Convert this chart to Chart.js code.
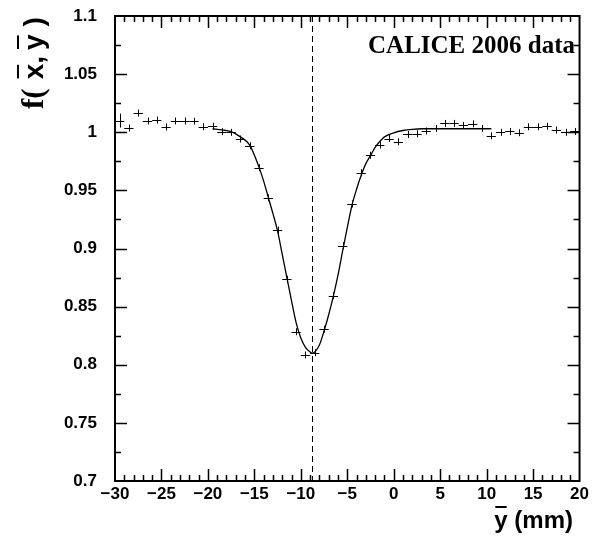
<!DOCTYPE html>
<html>
<head>
<meta charset="utf-8">
<script src="https://cdn.jsdelivr.net/npm/chart.js@4/dist/chart.umd.min.js"></script>
<style>
  html, body { margin: 0; padding: 0; background: #fff; }
  #wrap { width: 592px; height: 537px; }
</style>
</head>
<body>
<div id="wrap"><canvas id="ratioChart" width="592" height="537"></canvas></div>
<script>
// ================= DATA =================
const binCenters = [
  -29.5, -28.5, -27.5, -26.5, -25.5, -24.5, -23.5, -22.5, -21.5, -20.5,
  -19.5, -18.5, -17.5, -16.5, -15.5, -14.5, -13.5, -12.5, -11.5, -10.5,
  -9.5, -8.5, -7.5, -6.5, -5.5, -4.5, -3.5, -2.5, -1.5, -0.5,
  0.5, 1.5, 2.5, 3.5, 4.5, 5.5, 6.5, 7.5, 8.5, 9.5,
  10.5, 11.5, 12.5, 13.5, 14.5, 15.5, 16.5, 17.5, 18.5, 19.5
];
const ratio = [
  1.0100, 1.0036, 1.0165, 1.0097, 1.0105, 1.0045, 1.0097, 1.0097, 1.0095, 1.0047,
  1.0052, 1.0005, 0.9999, 0.9942, 0.9884, 0.9695, 0.9436, 0.9159, 0.8735, 0.8284,
  0.8084, 0.8104, 0.8305, 0.8594, 0.9024, 0.9383, 0.9652, 0.9802, 0.9890, 0.9946,
  0.9918, 0.9981, 0.9987, 1.0010, 1.0033, 1.0076, 1.0076, 1.0059, 1.0072, 1.0033,
  0.9970, 0.9999, 1.0007, 0.9996, 1.0047, 1.0047, 1.0052, 1.0019, 0.9999, 1.0007
];
const ratioErr = [
  0.006, 0.003, 0.003, 0.003, 0.003, 0.003, 0.003, 0.003, 0.003, 0.003,
  0.003, 0.003, 0.003, 0.003, 0.003, 0.003, 0.003, 0.003, 0.003, 0.003,
  0.003, 0.003, 0.003, 0.003, 0.003, 0.003, 0.003, 0.003, 0.003, 0.003,
  0.003, 0.003, 0.003, 0.003, 0.003, 0.003, 0.003, 0.003, 0.003, 0.003,
  0.003, 0.003, 0.003, 0.003, 0.003, 0.003, 0.003, 0.003, 0.003, 0.003
];
const binHalfWidth = 0.5;

// fit curve
const fitX = [
  -19.5, -18.5, -17.5, -16.5, -15.5, -14.5, -14, -13.5, -13, -12.5,
  -12, -11.5, -11, -10.5, -10, -9.5, -9, -8.8, -8.5, -8,
  -7.5, -7, -6.5, -6, -5.5, -5, -4.5, -4, -3.5, -3,
  -2.5, -2, -1.5, -1, 0, 1, 2, 3, 10.5
];
const fitY = [
  1.003, 1.002, 1.0005, 0.996, 0.989, 0.970, 0.958, 0.944, 0.930, 0.915,
  0.895, 0.875, 0.855, 0.836, 0.823, 0.815, 0.811, 0.810, 0.811, 0.817,
  0.829, 0.843, 0.859, 0.877, 0.898, 0.918, 0.937, 0.951, 0.963, 0.973,
  0.980, 0.987, 0.992, 0.996, 0.9995, 1.0015, 1.0025, 1.003, 1.003
];

const minimumPos = -8.8;
const xTickLabels = ["\u221230", "\u221225", "\u221220", "\u221215", "\u221210", "\u22125", "0", "5", "10", "15", "20"];
const yTickLabels = ["0.7", "0.75", "0.8", "0.85", "0.9", "0.95", "1", "1.05", "1.1"];
const labelText = "CALICE 2006 data";

// ================= DRAWING HELPERS =================
const decor = {
  id: "decor",
  afterDraw(chart) {
    const { ctx, chartArea: a, scales } = chart;
    const xs = scales.x, ys = scales.y;
    ctx.save();

    // error bars
    ctx.strokeStyle = "#000";
    ctx.lineWidth = 1;
    ctx.beginPath();
    binCenters.forEach((xc, i) => {
      const px = xs.getPixelForValue(xc);
      const py = ys.getPixelForValue(ratio[i]);
      const x0 = xs.getPixelForValue(xc - binHalfWidth);
      const x1 = xs.getPixelForValue(xc + binHalfWidth);
      const y0 = ys.getPixelForValue(ratio[i] - ratioErr[i]);
      const y1 = ys.getPixelForValue(ratio[i] + ratioErr[i]);
      ctx.moveTo(x0, Math.round(py) + 0.5);
      ctx.lineTo(x1, Math.round(py) + 0.5);
      ctx.moveTo(Math.round(px) + 0.5, y0);
      ctx.lineTo(Math.round(px) + 0.5, y1);
    });
    ctx.stroke();

    // dashed line at the minimum
    const dx = Math.round(xs.getPixelForValue(minimumPos)) + 0.5;
    ctx.setLineDash([6, 4]);
    ctx.lineWidth = 1;
    ctx.beginPath();
    ctx.moveTo(dx, a.top);
    ctx.lineTo(dx, a.bottom + 3);
    ctx.stroke();
    ctx.setLineDash([]);

    // frame + inward ticks
    ctx.lineWidth = 2;
    ctx.strokeRect(a.left, a.top, a.right - a.left, a.bottom - a.top);
    ctx.lineWidth = 1.5;
    ctx.beginPath();
    for (let v = -29; v < 20; v++) {
      const px = Math.round(xs.getPixelForValue(v)) + 0.5;
      const len = v % 5 === 0 ? 12 : 6;
      ctx.moveTo(px, a.bottom); ctx.lineTo(px, a.bottom - len);
      ctx.moveTo(px, a.top); ctx.lineTo(px, a.top + len);
    }
    for (let k = 1; k < 16; k++) {
      const v = 0.7 + k * 0.025;
      const py = Math.round(ys.getPixelForValue(v)) + 0.5;
      const len = k % 2 === 0 ? 12 : 6;
      ctx.moveTo(a.left, py); ctx.lineTo(a.left + len, py);
      ctx.moveTo(a.right, py); ctx.lineTo(a.right - len, py);
    }
    ctx.stroke();

    // data label
    ctx.fillStyle = "#000";
    ctx.font = "bold 25px 'Liberation Serif'";
    ctx.textAlign = "right";
    ctx.textBaseline = "alphabetic";
    ctx.fillText(labelText, 575, 53);

    // x axis title: y-bar (mm)
    ctx.font = "bold 24px 'Liberation Sans'";
    ctx.textAlign = "left";
    const xt = " (mm)";
    const wRest = ctx.measureText(xt).width;
    const wy = ctx.measureText("y").width;
    const xStart = 573 - wRest - wy;
    ctx.fillText("y", xStart, 528);
    ctx.fillText(xt, xStart + wy, 528);
    ctx.fillRect(xStart + 1, 506, wy - 2, 2);

    // y axis title: f( x-bar, y-bar )
    ctx.translate(43, 109);
    ctx.rotate(-Math.PI / 2);
    let cx = 0;
    ctx.font = "bold 31px 'Liberation Serif'";
    ctx.fillText("f(", cx, 0);
    cx += ctx.measureText("f(").width + 9;
    ctx.font = "bold 28px 'Liberation Sans'";
    const wx = ctx.measureText("x").width;
    ctx.fillText("x", cx, 0);
    ctx.fillRect(cx + 1, -26, wx - 2, 2);
    cx += wx;
    ctx.fillText(",", cx, 0);
    cx += ctx.measureText(",").width + 6;
    const wyy = ctx.measureText("y").width;
    ctx.fillText("y", cx, 0);
    ctx.fillRect(cx + 1, -26, wyy - 2, 2);
    cx += wyy + 8;
    ctx.fillText(")", cx, 0);

    ctx.restore();
  }
};

// ================= CHART =================
const tickFont = { family: "'Liberation Sans', Arial, sans-serif", size: 17, weight: "bold" };

new Chart(document.getElementById("ratioChart"), {
  type: "scatter",
  data: {
    datasets: [
      {
        label: "data",
        data: binCenters.map((x, i) => ({ x: x, y: ratio[i] })),
        pointRadius: 0,
        showLine: false
      },
      {
        label: "fit",
        data: fitX.map((x, i) => ({ x: x, y: fitY[i] })),
        showLine: true,
        borderColor: "#000",
        borderWidth: 1.3,
        pointRadius: 0,
        cubicInterpolationMode: "monotone"
      }
    ]
  },
  options: {
    responsive: false,
    animation: false,
    devicePixelRatio: 1,
    layout: { padding: { left: 0, top: 16, right: 12, bottom: 0 } },
    plugins: { legend: { display: false }, tooltip: { enabled: false } },
    scales: {
      x: {
        type: "linear",
        min: -30,
        max: 20,
        grid: { display: false, drawTicks: false },
        border: { display: false },
        afterFit: (s) => { s.height = 56; },
        afterBuildTicks: (s) => { s.ticks = xTickLabels.map((_, i) => ({ value: -30 + 5 * i })); },
        ticks: {
          font: tickFont,
          color: "#000",
          padding: 3,
          maxRotation: 0,
          autoSkip: false,
          callback: (v, i) => xTickLabels[i]
        }
      },
      y: {
        type: "linear",
        min: 0.7,
        max: 1.1,
        // invisible tick marks give the gap between labels and frame
        grid: { display: true, drawOnChartArea: false, drawTicks: true, tickLength: 18, color: "rgba(0,0,0,0)" },
        border: { display: false },
        afterFit: (s) => { s.width = 115; },
        afterBuildTicks: (s) => { s.ticks = yTickLabels.map((_, i) => ({ value: 0.7 + 0.05 * i })); },
        ticks: {
          font: tickFont,
          color: "#000",
          padding: 0,
          autoSkip: false,
          callback: (v, i) => yTickLabels[i]
        }
      }
    }
  },
  plugins: [decor]
});
</script>
</body>
</html>
